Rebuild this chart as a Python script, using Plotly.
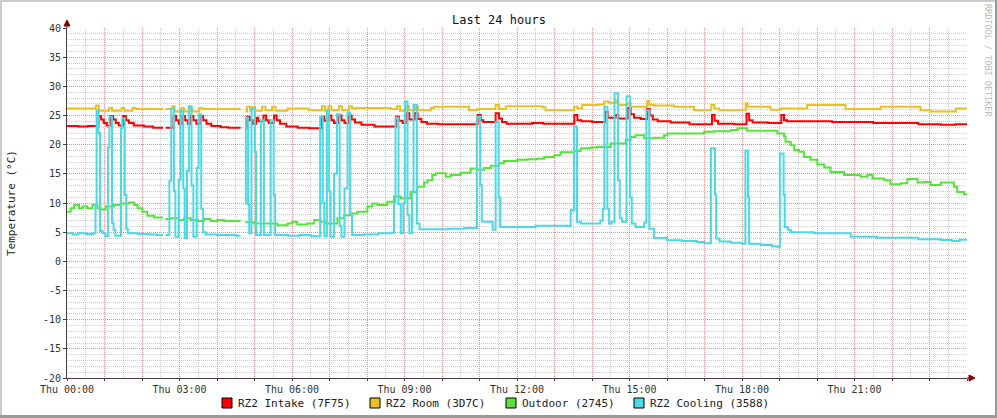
import plotly.graph_objects as go

# ---------------- data (hour of day, °C); None marks a data gap ----------------
x_tick_hours = list(range(0, 25))
x_tick_labels = ["Thu %02d:00" % h if h % 3 == 0 and h < 24 else "" for h in x_tick_hours]
y_ticks = [-20, -15, -10, -5, 0, 5, 10, 15, 20, 25, 30, 35, 40]

series_names = ["RZ2 Intake (7F75)", "RZ2 Room (3D7C)", "Outdoor (2745)", "RZ2 Cooling (3588)"]
series_colors = ["#FF0000", "#EAC022", "#5AE23C", "#4DD8E6"]

intake = [
    (0.00, 23.2), (0.30, 23.1), (0.55, 23.2), (0.84, 24.9), (0.91, 24.3), (0.98, 23.7), (1.06, 23.3),
    (1.16, 24.9), (1.23, 24.3), (1.30, 23.7), (1.38, 23.3), (1.50, 24.9), (1.57, 24.2), (1.65, 23.7),
    (1.78, 23.3), (2.05, 23.1), (2.30, 22.9), (2.56, None),
    (2.63, 22.9), (2.84, 24.9), (2.91, 24.2), (2.98, 23.6), (3.08, 24.9), (3.15, 24.2), (3.22, 23.6),
    (3.30, 24.9), (3.37, 24.2), (3.45, 23.6), (3.56, 24.9), (3.63, 24.2), (3.72, 23.6), (3.85, 23.2),
    (4.10, 23.0), (4.30, 22.9), (4.63, None),
    (4.75, 22.8), (4.80, 24.8), (4.87, 24.2), (4.95, 23.6), (5.04, 24.6), (5.10, 24.0), (5.24, 25.0),
    (5.31, 24.2), (5.38, 23.7), (5.52, 25.0), (5.59, 24.2), (5.68, 23.6), (5.85, 23.1), (6.15, 22.9),
    (6.45, 22.8), (6.79, 24.8), (6.86, 24.1), (6.98, 25.0), (7.05, 24.2), (7.12, 23.7), (7.25, 25.0),
    (7.32, 24.2), (7.40, 23.7), (7.52, 25.0), (7.59, 24.3), (7.68, 23.8), (7.85, 23.4), (8.20, 23.1),
    (8.78, 24.8), (8.85, 24.1), (8.95, 23.7), (9.06, 25.4), (9.13, 24.3), (9.27, 25.4), (9.35, 24.4),
    (9.45, 23.9), (9.60, 23.6), (9.90, 23.5), (10.50, 23.5), (10.95, 25.1), (11.03, 24.2), (11.10, 23.9),
    (11.43, 25.4), (11.52, 24.5), (11.60, 23.9), (11.72, 23.6), (12.40, 23.7), (12.70, 23.6),
    (13.53, 25.1), (13.61, 24.2), (13.72, 24.0), (14.00, 23.9), (14.35, 25.6), (14.42, 24.6),
    (14.63, 25.1), (14.70, 24.5), (14.95, 26.3), (15.03, 25.2), (15.12, 24.6), (15.30, 24.4),
    (15.47, 26.1), (15.54, 25.0), (15.62, 24.3), (15.75, 24.0), (16.10, 23.8), (16.60, 23.5),
    (17.20, 25.1), (17.27, 24.1), (17.36, 23.6), (17.80, 23.5), (18.12, 25.3), (18.19, 24.2),
    (18.28, 23.8), (18.70, 23.7), (19.05, 25.1), (19.12, 24.2), (19.20, 24.0), (20.40, 23.9),
    (21.00, 23.9), (21.50, 23.7), (22.00, 23.7), (22.70, 23.5), (23.30, 23.4), (23.70, 23.5), (24.00, 23.5),
]

room = [
    (0.00, 26.2), (0.77, 26.7), (0.85, 25.8), (1.12, 26.3), (1.20, 25.8), (1.45, 26.3), (1.53, 25.8),
    (1.74, 26.3), (1.83, 26.1), (2.56, None),
    (2.63, 26.1), (2.81, 26.6), (2.87, 25.7), (3.05, 26.3), (3.12, 25.7), (3.27, 26.3), (3.34, 25.7),
    (3.53, 26.3), (3.61, 26.1), (4.63, None),
    (4.75, 25.7), (4.80, 26.5), (4.88, 25.8), (4.94, 26.4), (5.02, 25.8), (5.20, 26.5), (5.29, 25.9),
    (5.47, 26.5), (5.56, 25.8), (5.88, 26.2), (6.45, 25.9), (6.80, 26.6), (6.88, 25.8), (6.97, 26.6),
    (7.05, 25.9), (7.25, 26.6), (7.33, 25.9), (7.52, 26.6), (7.60, 26.2), (7.70, 26.3), (8.63, 26.1),
    (8.80, 26.6), (8.88, 25.8), (9.03, 26.6), (9.12, 25.9), (9.28, 26.5), (9.36, 25.9), (9.70, 26.3),
    (9.79, 26.5), (10.72, 25.9), (10.94, 26.1), (11.43, 26.8), (11.52, 26.1), (11.70, 26.6),
    (12.68, 26.4), (12.76, 25.9), (13.52, 26.5), (13.61, 26.2), (13.74, 26.8), (14.19, 26.9),
    (14.32, 27.4), (14.45, 27.2), (14.64, 27.6), (14.70, 26.8), (14.95, 27.1), (15.03, 26.5),
    (15.47, 27.5), (15.53, 26.8), (15.65, 26.7), (16.19, 26.5), (16.72, 25.9), (17.18, 26.8),
    (17.26, 26.2), (17.39, 25.9), (18.10, 27.1), (18.15, 26.5), (18.76, 26.0), (19.03, 26.2),
    (19.74, 26.8), (20.76, 26.1), (21.70, 26.5), (22.76, 25.9), (23.03, 25.7), (23.70, 26.2), (24.00, 26.2),
]

outdoor = [
    (0.00, 8.5), (0.10, 9.1), (0.19, 9.65), (0.32, 9.1), (0.41, 9.4), (0.54, 9.1), (0.68, 9.65),
    (0.81, 9.1), (0.90, 8.9), (1.03, 9.4), (1.25, 9.65), (1.43, 9.9), (1.65, 10.1), (1.79, 9.65),
    (1.88, 9.1), (2.01, 8.5), (2.14, 7.8), (2.32, 7.5), (2.56, None),
    (2.63, 7.25), (2.76, 7.4), (2.99, 7.1), (3.12, 7.4), (3.30, 7.1), (3.48, 6.9), (3.65, 7.25),
    (3.83, 6.9), (4.01, 7.1), (4.19, 6.9), (4.63, None),
    (4.75, 6.7), (4.99, 6.5), (5.61, 6.2), (5.88, 6.5), (6.01, 6.8), (6.14, 6.3), (6.41, 6.5),
    (6.59, 7.1), (6.76, 6.8), (6.90, 6.5), (7.21, 7.4), (7.39, 7.9), (7.56, 8.2), (7.74, 8.5),
    (8.01, 9.4), (8.14, 9.9), (8.28, 9.65), (8.54, 10.2), (8.72, 11.1), (8.90, 10.8), (9.16, 11.9),
    (9.34, 12.8), (9.52, 13.5), (9.61, 13.9), (9.74, 14.8), (9.83, 15.1), (10.10, 14.5), (10.23, 14.8),
    (10.50, 15.2), (10.76, 15.9), (10.94, 15.7), (11.12, 16.0), (11.30, 16.4), (11.52, 16.8),
    (11.65, 17.2), (12.01, 17.4), (12.28, 17.5), (12.54, 17.6), (12.72, 17.9), (12.99, 18.2),
    (13.16, 18.7), (13.52, 18.9), (13.70, 19.4), (13.96, 19.5), (14.14, 19.6), (14.50, 20.2),
    (14.90, 20.8), (15.03, 21.3), (15.16, 21.6), (15.39, 21.1), (15.65, 21.2), (15.92, 21.6),
    (16.01, 21.9), (16.99, 22.2), (17.25, 22.3), (17.70, 22.5), (17.88, 22.8), (18.14, 22.4),
    (18.94, 21.9), (19.12, 21.4), (19.16, 20.5), (19.30, 19.9), (19.39, 19.1), (19.52, 18.8),
    (19.65, 17.9), (19.83, 17.4), (20.01, 16.6), (20.19, 16.1), (20.36, 15.3), (20.72, 14.8),
    (21.16, 14.5), (21.34, 14.8), (21.48, 14.2), (21.79, 13.9), (21.96, 13.2), (22.23, 13.4),
    (22.41, 14.1), (22.68, 13.5), (22.85, 13.6), (23.03, 13.1), (23.30, 13.5), (23.65, 12.8),
    (23.74, 11.9), (23.92, 11.5), (24.00, 11.5),
]

cooling = [
    (0.00, 4.8), (0.15, 4.6), (0.30, 4.8), (0.50, 4.7), (0.70, 4.8), (0.76, 9.8), (0.79, 25.9),
    (0.84, 22.0), (0.88, 5.2), (0.95, 4.8), (1.02, 4.3), (1.09, 19.5), (1.13, 24.8), (1.20, 6.6),
    (1.24, 5.4), (1.29, 4.4), (1.44, 22.8), (1.47, 24.5), (1.54, 11.4), (1.58, 5.6), (1.62, 4.8),
    (1.90, 4.7), (2.20, 4.6), (2.40, 4.5), (2.56, None),
    (2.63, 4.5), (2.73, 13.8), (2.78, 26.2), (2.85, 12.0), (2.89, 4.2), (2.98, 14.0), (3.03, 25.8),
    (3.10, 12.5), (3.14, 4.0), (3.20, 15.5), (3.25, 26.6), (3.32, 13.0), (3.37, 4.2), (3.46, 16.0),
    (3.51, 25.2), (3.58, 9.0), (3.63, 5.0), (3.70, 4.6), (4.00, 4.5), (4.30, 4.5), (4.50, 4.4), (4.63, None),
    (4.75, 9.9), (4.77, 24.6), (4.83, 9.7), (4.86, 4.8), (4.92, 26.2), (5.01, 18.8), (5.04, 4.5),
    (5.17, 24.2), (5.25, 4.5), (5.43, 24.2), (5.51, 11.4), (5.55, 4.5), (5.90, 4.4), (6.20, 4.5),
    (6.50, 4.3), (6.75, 24.8), (6.82, 10.0), (6.86, 4.3), (6.93, 25.9), (6.99, 12.0), (7.03, 4.2),
    (7.12, 15.0), (7.20, 25.2), (7.27, 6.0), (7.32, 4.2), (7.40, 12.5), (7.48, 25.5), (7.55, 8.0),
    (7.60, 4.5), (7.90, 4.6), (8.30, 4.8), (8.65, 4.9), (8.72, 10.0), (8.76, 24.6), (8.84, 9.8),
    (8.90, 4.8), (8.97, 10.0), (9.01, 27.4), (9.08, 8.0), (9.13, 4.8), (9.20, 12.0), (9.24, 26.8),
    (9.33, 6.5), (9.40, 5.5), (9.80, 5.5), (10.20, 5.6), (10.60, 5.7), (10.93, 24.8), (11.02, 13.1),
    (11.06, 6.8), (11.35, 5.4), (11.43, 23.9), (11.51, 11.0), (11.55, 5.9), (12.00, 5.9), (12.50, 6.1),
    (13.00, 6.1), (13.35, 6.0), (13.43, 8.8), (13.52, 23.1), (13.60, 6.8), (13.70, 6.5), (14.10, 6.5),
    (14.22, 7.0), (14.29, 9.0), (14.33, 26.5), (14.41, 9.0), (14.45, 6.5), (14.52, 6.8), (14.60, 28.8),
    (14.69, 13.9), (14.74, 7.4), (14.80, 6.8), (14.92, 28.3), (15.01, 11.0), (15.06, 6.5), (15.16, 5.9),
    (15.39, 6.6), (15.45, 25.9), (15.53, 5.6), (15.65, 4.0), (16.00, 3.6), (16.40, 3.5), (16.80, 3.3),
    (17.00, 3.1), (17.17, 19.4), (17.28, 11.4), (17.31, 3.9), (17.40, 3.4), (17.70, 3.2), (18.00, 3.0),
    (18.09, 19.0), (18.16, 11.0), (18.19, 3.0), (18.50, 2.8), (18.80, 2.6), (18.95, 2.4), (19.01, 18.5),
    (19.11, 11.4), (19.14, 5.9), (19.22, 5.4), (19.30, 5.0), (19.92, 4.8), (20.90, 4.2), (21.60, 4.05),
    (22.70, 3.8), (23.30, 3.65), (23.60, 3.5), (23.80, 3.7), (24.00, 3.7),
]

all_series = [intake, room, outdoor, cooling]

# ---------------- geometry (pixels of the 997x418 canvas) ----------------
W, H = 997, 418
PL, PR, PT, PB = 67, 967, 28, 378
FONT = "DejaVu Sans Mono"


def px(xp):
    return (xp - PL) / (PR - PL)


def py(yp):
    return (PB - yp) / (PB - PT)


def steps(pairs):
    xs, ys = [], []
    for t, v in pairs:
        if v is None:
            xs.append(t)
            ys.append(ys[-1])
            xs.append(t)
            ys.append(None)
        else:
            xs.append(t)
            ys.append(v)
    return xs, ys


fig = go.Figure()
for name, data, color in zip(series_names, all_series, series_colors):
    xs, ys = steps(data)
    fig.add_trace(go.Scatter(
        x=xs, y=ys, mode="lines", name=name,
        line=dict(color=color, width=2, shape="hv"),
        connectgaps=False, showlegend=False, hoverinfo="skip",
    ))

axis_col = "#4a3c3c"
major_grid = "rgba(232,110,110,0.6)"
minor_grid = "rgba(165,165,165,0.55)"
fig.update_layout(
    width=W, height=H,
    margin=dict(l=PL, r=W - PR, t=PT, b=H - PB, pad=0),
    paper_bgcolor="white", plot_bgcolor="white",
    showlegend=False,
    font=dict(family=FONT, size=10, color="#333333"),
    xaxis=dict(
        range=[0, 24], tickmode="array", tickvals=x_tick_hours, ticktext=x_tick_labels,
        showgrid=True, gridcolor=major_grid, griddash="1px,1px", gridwidth=1,
        minor=dict(dtick=0.5, tick0=0, showgrid=True, gridcolor=minor_grid,
                   griddash="1px,1px", gridwidth=1, ticks=""),
        zeroline=False, showline=True, linecolor=axis_col, linewidth=1,
        ticks="outside", ticklen=2, tickcolor=axis_col,
        tickfont=dict(family=FONT, size=10, color="#333333"), fixedrange=True,
    ),
    yaxis=dict(
        range=[-20, 40], tickmode="array", tickvals=y_ticks, ticktext=[str(v) for v in y_ticks],
        showgrid=True, gridcolor=major_grid, griddash="1px,1px", gridwidth=1,
        minor=dict(dtick=1, tick0=0, showgrid=True, gridcolor=minor_grid,
                   griddash="1px,1px", gridwidth=1, ticks=""),
        zeroline=False, showline=True, linecolor=axis_col, linewidth=1,
        ticks="outside", ticklen=3, tickcolor=axis_col,
        tickfont=dict(family=FONT, size=10, color="#333333"), fixedrange=True,
    ),
)

shapes = []
# frame shading
shapes.append(dict(type="rect", xref="paper", yref="paper", x0=px(0), x1=px(W), y0=py(0), y1=py(2),
                   fillcolor="#CBCBCB", line=dict(width=0), layer="above"))
shapes.append(dict(type="rect", xref="paper", yref="paper", x0=px(0), x1=px(2), y0=py(0), y1=py(H),
                   fillcolor="#CBCBCB", line=dict(width=0), layer="above"))
shapes.append(dict(type="rect", xref="paper", yref="paper", x0=px(0), x1=px(W), y0=py(H - 3), y1=py(H),
                   fillcolor="#999999", line=dict(width=0), layer="above"))
shapes.append(dict(type="rect", xref="paper", yref="paper", x0=px(W - 2), x1=px(W), y0=py(0), y1=py(H),
                   fillcolor="#999999", line=dict(width=0), layer="above"))
# axis extensions and arrows
shapes.append(dict(type="line", xref="paper", yref="paper", x0=px(PL), x1=px(PL), y0=py(PT), y1=py(PT - 5),
                   line=dict(color=axis_col, width=1)))
shapes.append(dict(type="line", xref="paper", yref="paper", x0=px(PR), x1=px(PR + 4), y0=py(PB), y1=py(PB),
                   line=dict(color=axis_col, width=1)))
shapes.append(dict(type="path", xref="paper", yref="paper",
                   path="M %f %f L %f %f L %f %f Z" % (px(PL - 3), py(PT - 2), px(PL + 3), py(PT - 2), px(PL), py(PT - 8)),
                   fillcolor="#7F0000", line=dict(color="#7F0000", width=1)))
shapes.append(dict(type="path", xref="paper", yref="paper",
                   path="M %f %f L %f %f L %f %f Z" % (px(PR + 2), py(PB - 3), px(PR + 2), py(PB + 3), px(PR + 8), py(PB)),
                   fillcolor="#7F0000", line=dict(color="#7F0000", width=1)))

annotations = []
legend_square_x = [222, 370, 506, 634]
for name, color, sx in zip(series_names, series_colors, legend_square_x):
    shapes.append(dict(type="rect", xref="paper", yref="paper", x0=px(sx), x1=px(sx + 10),
                       y0=py(398), y1=py(408), fillcolor=color, line=dict(color="black", width=1)))
    annotations.append(dict(xref="paper", yref="paper", x=px(sx + 14), y=py(403), text=name,
                            showarrow=False, xanchor="left", yanchor="middle",
                            font=dict(family=FONT, size=11, color="#222222")))

annotations.append(dict(xref="paper", yref="paper", x=px(499), y=py(20), text="Last 24 hours",
                        showarrow=False, xanchor="center", yanchor="middle",
                        font=dict(family=FONT, size=12, color="#111111")))
annotations.append(dict(xref="paper", yref="paper", x=px(11), y=py(203), text="Temperature (°C)",
                        showarrow=False, xanchor="center", yanchor="middle", textangle=-90,
                        font=dict(family=FONT, size=11, color="#222222")))
annotations.append(dict(xref="paper", yref="paper", x=px(988), y=py(60), text="RRDTOOL / TOBI OETIKER",
                        showarrow=False, xanchor="center", yanchor="middle", textangle=90,
                        font=dict(family=FONT, size=8.5, color="#BBBBBB")))

fig.update_layout(shapes=shapes, annotations=annotations)
fig.write_html(
    "out.html",
    config={"displayModeBar": False},
    post_script="document.body.style.margin='0';document.body.style.overflow='hidden';",
)
